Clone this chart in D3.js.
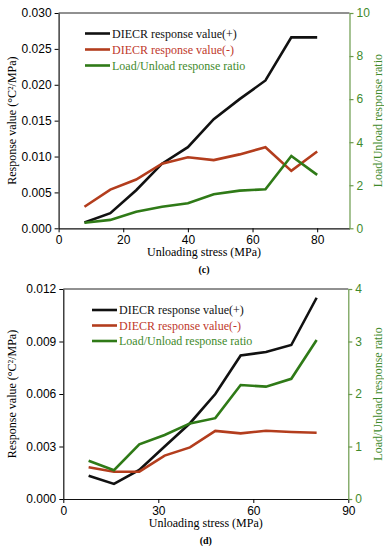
<!DOCTYPE html>
<html>
<head>
<meta charset="utf-8">
<script src="https://cdn.jsdelivr.net/npm/d3@7"></script>
<style>
  body { margin: 0; background: #fff; }
  svg { display: block; }
  .tick text { font-family: "Liberation Sans", Arial, sans-serif; font-size: 12px; }
</style>
</head>
<body>
<div id="chart"></div>
<script>
// unloading stress (MPa), same for both panels
const stress = [8, 16, 24, 32, 40, 48, 56, 64, 72, 80];

// panel (c)
const cPlus  = [0.0008, 0.0021, 0.0053, 0.0090, 0.0113, 0.0152, 0.0180, 0.0206, 0.0266, 0.0266];
const cMinus = [0.0030, 0.0054, 0.0068, 0.0090, 0.0099, 0.0095, 0.0103, 0.0113, 0.0080, 0.0107];
const cRatio = [0.26, 0.39, 0.77, 1.00, 1.16, 1.58, 1.75, 1.81, 3.36, 2.48];
const cLeftTicks = [0, 0.005, 0.010, 0.015, 0.020, 0.025, 0.030];
const cRightTicks = [0, 2, 4, 6, 8, 10];
const cXTicks = [0, 20, 40, 60, 80];

// panel (d)
const dPlus  = [0.00133, 0.00086, 0.00166, 0.0030, 0.00433, 0.0060, 0.0082, 0.0084, 0.0088, 0.0115];
const dMinus = [0.00181, 0.00156, 0.00156, 0.00248, 0.00295, 0.00389, 0.00375, 0.00390, 0.00383, 0.00379];
const dRatio = [0.73, 0.55, 1.04, 1.22, 1.44, 1.54, 2.17, 2.14, 2.29, 3.03];
const dLeftTicks = [0, 0.003, 0.006, 0.009, 0.012];
const dRightTicks = [0, 1, 2, 3, 4];
const dXTicks = [0, 30, 60, 90];

const legendNames = ["DIECR response value(+)", "DIECR response value(-)", "Load/Unload response ratio"];

const BLACK = "#111", RED = "#b33d1d", GREEN = "#2f7a17";
const RED_TXT = "#c0392b", GREEN_TXT = "#3f8a2c", AXIS_GREEN = "#6b9a4c";
const serif = "Liberation Serif";

const svg = d3.select("#chart").append("svg")
  .attr("width", 384).attr("height", 550);

function drawPanel(p) {
  const x = d3.scaleLinear().domain([0, 90]).range([p.left, p.right]);
  const yL = d3.scaleLinear().domain([0, p.leftMax]).range([p.bottom, p.top]);
  const yR = d3.scaleLinear().domain([0, p.rightMax]).range([p.bottom, p.top]);
  const g = svg.append("g");

  // top frame line
  g.append("line")
    .attr("x1", p.left).attr("x2", p.right)
    .attr("y1", p.top).attr("y2", p.top)
    .attr("stroke", "#222").attr("stroke-width", 1);

  // axes
  const xAxis = g.append("g")
    .attr("transform", "translate(0," + p.bottom + ")")
    .call(d3.axisBottom(x).tickValues(p.xTicks).tickSize(4).tickPadding(3).tickSizeOuter(0));
  xAxis.select(".domain").attr("stroke", "#111").attr("stroke-width", 1.2);

  const lAxis = g.append("g")
    .attr("transform", "translate(" + p.left + ",0)")
    .call(d3.axisLeft(yL).tickValues(p.leftTicks).tickFormat(d3.format(".3f"))
      .tickSize(4).tickPadding(3).tickSizeOuter(0));
  lAxis.select(".domain").attr("stroke", "#111").attr("stroke-width", 1.2);

  const rAxis = g.append("g")
    .attr("transform", "translate(" + p.right + ",0)")
    .call(d3.axisRight(yR).tickValues(p.rightTicks).tickFormat(d3.format("d"))
      .tickSize(4).tickPadding(3).tickSizeOuter(0));
  rAxis.selectAll(".domain, .tick line").attr("stroke", AXIS_GREEN).attr("stroke-width", 1.2);
  rAxis.selectAll(".tick text").attr("fill", GREEN_TXT);

  // series
  const series = [
    { vals: p.plus, scale: yL, color: BLACK },
    { vals: p.minus, scale: yL, color: RED },
    { vals: p.ratio, scale: yR, color: GREEN }
  ];
  series.forEach(s => {
    const line = d3.line()
      .x((d, i) => x(stress[i]))
      .y(d => s.scale(d));
    g.append("path")
      .datum(s.vals)
      .attr("d", line)
      .attr("fill", "none")
      .attr("stroke", s.color)
      .attr("stroke-width", 2.6);
  });

  // legend
  const legColors = [BLACK, RED, GREEN];
  const legText = [BLACK, RED_TXT, GREEN_TXT];
  legendNames.forEach((name, i) => {
    const yy = p.legY + i * p.legStep;
    g.append("line")
      .attr("x1", p.legX).attr("x2", p.legX + 25)
      .attr("y1", yy).attr("y2", yy)
      .attr("stroke", legColors[i]).attr("stroke-width", 2.6);
    g.append("text")
      .attr("x", p.legX + 27).attr("y", yy + 4)
      .attr("font-family", serif).attr("font-size", 12)
      .attr("fill", legText[i])
      .text(name);
  });

  // axis titles
  const midY = (p.top + p.bottom) / 2;
  g.append("text")
    .attr("transform", "translate(16," + midY + ") rotate(-90)")
    .attr("text-anchor", "middle")
    .attr("font-family", serif).attr("font-size", 12)
    .text("Response value (°C²/MPa)");
  g.append("text")
    .attr("transform", "translate(382," + midY + ") rotate(-90)")
    .attr("text-anchor", "middle")
    .attr("font-family", serif).attr("font-size", 12)
    .attr("fill", GREEN_TXT)
    .text("Load/Unload response ratio");
  g.append("text")
    .attr("x", (p.left + p.right) / 2).attr("y", p.bottom + 28)
    .attr("text-anchor", "middle")
    .attr("font-family", serif).attr("font-size", 12)
    .text("Unloading stress (MPa)");
  g.append("text")
    .attr("x", (p.left + p.right) / 2).attr("y", p.bottom + 45)
    .attr("text-anchor", "middle")
    .attr("font-family", serif).attr("font-size", 10).attr("font-weight", "bold")
    .text(p.caption);
}

drawPanel({
  left: 58.6, right: 349.5, top: 13, bottom: 228.3,
  leftMax: 0.030, rightMax: 10,
  leftTicks: cLeftTicks, rightTicks: cRightTicks, xTicks: cXTicks,
  plus: cPlus, minus: cMinus, ratio: cRatio,
  legX: 85, legY: 33.5, legStep: 16, caption: "(c)"
});

drawPanel({
  left: 63.3, right: 348.3, top: 289, bottom: 499,
  leftMax: 0.012, rightMax: 4,
  leftTicks: dLeftTicks, rightTicks: dRightTicks, xTicks: dXTicks,
  plus: dPlus, minus: dMinus, ratio: dRatio,
  legX: 92, legY: 310, legStep: 15.5, caption: "(d)"
});
</script>
</body>
</html>
